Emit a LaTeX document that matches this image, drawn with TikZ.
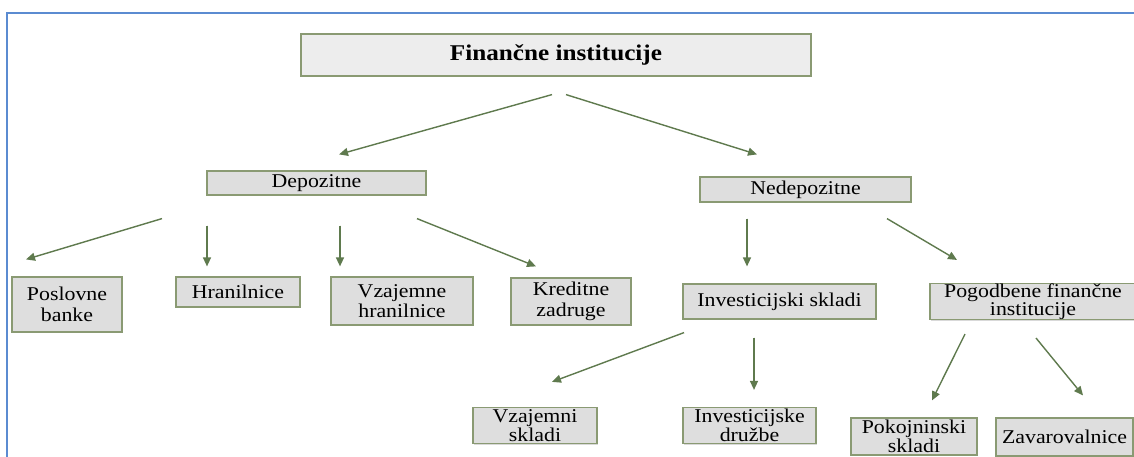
\documentclass[tikz,border=0pt]{standalone}
\usepackage{fontspec}
\setmainfont{Liberation Serif}[FakeStretch=1.12]
\usetikzlibrary{arrows.meta,calc,shadows}
\definecolor{boxline}{HTML}{8A9A73}
\definecolor{boxgray}{HTML}{DEDEDE}
\definecolor{topgray}{HTML}{EDEDED}
\definecolor{arrgreen}{HTML}{5F7A4E}
\definecolor{frameblue}{HTML}{5B8BD1}
\tikzset{
  blk/.style={draw=boxline,fill=boxgray,line width=1.2pt,inner sep=0pt,align=center,
    font=\fontsize{19.5}{20.5}\selectfont,
    drop shadow={shadow xshift=1.3pt,shadow yshift=-1.3pt,opacity=.3,fill=black!50}},
  topblk/.style={blk,fill=topgray,font=\bfseries\fontsize{22.5}{24}\selectfont},
  arr/.style={-{Triangle[length=9pt,width=8pt]},draw=arrgreen,fill=arrgreen,line width=1.4pt},
  frame/.style={draw=frameblue,line width=2pt}
}
\begin{document}
\begin{tikzpicture}[x=1pt,y=-1pt]
  \useasboundingbox (0,0) rectangle (1134,457);
  \draw[frame] (7,460) -- (7,13) -- (1136,13);

  % level 0 and 1
  \node[topblk,minimum width=510pt,minimum height=42pt] (fin) at (556,55) {Finančne institucije};
  \node[blk,minimum width=219pt,minimum height=24pt] (dep) at (316.5,183) {Depozitne};
  \node[blk,minimum width=211pt,minimum height=25pt] (nedep) at (805.5,189.5) {Nedepozitne};

  % level 2
  \node[blk,minimum width=110pt,minimum height=55pt] (posl) at (67,304.5) {Poslovne\\banke};
  \node[blk,minimum width=124pt,minimum height=30pt] (hran) at (238,292) {Hranilnice};
  \node[blk,minimum width=142pt,minimum height=48pt] (vzhr) at (402,301) {Vzajemne\\hranilnice};
  \node[blk,minimum width=120pt,minimum height=47pt] (kred) at (571,301.5) {Kreditne\\zadruge};
  \node[blk,minimum width=193pt,minimum height=35pt] (inv) at (779.5,301.5) {Investicijski skladi};
  \node[blk,minimum width=206pt,minimum height=35pt,font=\fontsize{19.5}{18}\selectfont] (pog) at (1033,301.5) {Pogodbene finančne\\institucije};

  % level 3
  \node[blk,minimum width=124pt,minimum height=36pt,font=\fontsize{19.5}{19.5}\selectfont] (vzsk) at (535,425.5) {Vzajemni\\skladi};
  \node[blk,minimum width=133pt,minimum height=36pt,font=\fontsize{19.5}{19.5}\selectfont] (invd) at (749.5,425.5) {Investicijske\\družbe};
  \node[blk,minimum width=126pt,minimum height=37pt,font=\fontsize{19.5}{18.5}\selectfont] (pok) at (914,436.5) {Pokojninski\\skladi};
  \node[blk,minimum width=137pt,minimum height=38pt] (zav) at (1064.5,437) {Zavarovalnice};

  \draw[arr] ($(fin.south)+(-4,18)$) -- ($(dep.north)+(22.5,-16)$);
  \draw[arr] ($(fin.south)+(10,18)$) -- ($(nedep.north)+(-48.5,-22)$);

  \draw[arr] ($(dep.south)+(-154.5,23)$) -- ($(posl.north)+(-41,-17)$);
  \draw[arr] ($(dep.south)+(-109.5,30)$) -- ($(hran.north)+(-31,-10)$);
  \draw[arr] ($(dep.south)+(23.5,30)$) -- ($(vzhr.north)+(-62,-10)$);
  \draw[arr] ($(dep.south)+(100.5,23)$) -- ($(kred.north)+(-35,-11)$);

  \draw[arr] ($(nedep.south)+(-58.5,16)$) -- ($(inv.north)+(-32.5,-17)$);
  \draw[arr] ($(nedep.south)+(81.5,16)$) -- ($(pog.north)+(-76,-23)$);

  \draw[arr] ($(inv.south)+(-95.5,13)$) -- ($(vzsk.north)+(17,-25)$);
  \draw[arr] ($(inv.south)+(-25.5,18)$) -- ($(invd.north)+(4.5,-17)$);

  \draw[arr] ($(pog.south)+(-68,14)$) -- ($(pok.north)+(18,-17)$);
  \draw[arr] ($(pog.south)+(3,18)$) -- ($(zav.north)+(18.5,-22)$);
\end{tikzpicture}
\end{document}
